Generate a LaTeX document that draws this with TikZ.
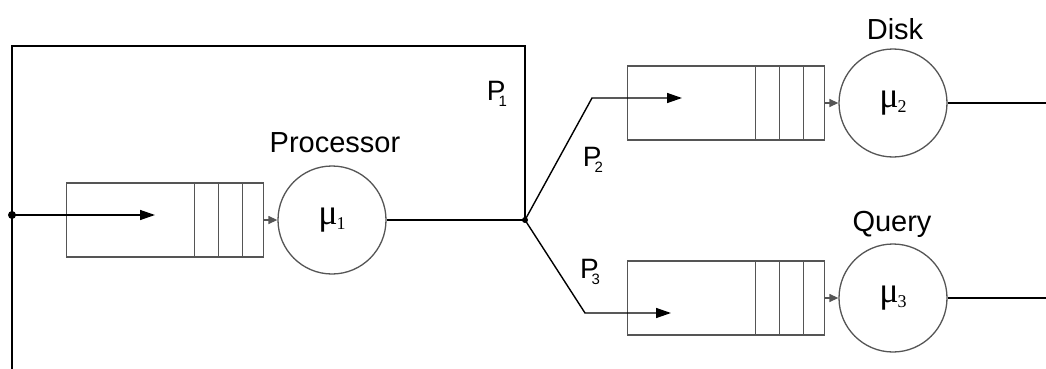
\documentclass[tikz,border=0pt]{standalone}
\usepackage{fontspec}
\setmainfont{Liberation Sans}
\newfontfamily\serifmu{Liberation Serif}
\usetikzlibrary{arrows.meta}
\definecolor{boxgray}{HTML}{555555}
\newcommand{\plabel}[1]{\fontsize{28}{30}\selectfont P\kern-7pt\raisebox{-6pt}{\fontsize{15}{15}\selectfont #1}}
\newcommand{\mulabel}[1]{\serifmu\fontsize{36}{38}\selectfont μ\kern-1pt\raisebox{-5pt}{\fontsize{18}{18}\selectfont #1}}
\begin{document}
\begin{tikzpicture}[x=1pt,y=-1pt,
  qbox/.style={draw=boxgray,line width=1.3pt,minimum width=197pt,minimum height=74pt,inner sep=0pt},
  server/.style={circle,draw=boxgray,line width=1.3pt,minimum size=108pt,inner sep=0pt},
  flow/.style={draw=black,line width=1.4pt},
  bigarrow/.style={flow,-{Triangle[length=15pt,width=10pt]}},
  smallarrow/.style={draw=boxgray,line width=1.3pt,-{Triangle[length=9pt,width=8pt]}},
  slot/.style={draw=boxgray,line width=1.3pt},
  lbl/.style={font=\fontsize{29}{32}\selectfont,inner sep=0pt},
  dot/.style={circle,fill=black,inner sep=0pt,minimum size=#1}
]
\useasboundingbox (0,0) rectangle (1046,369);

% queues
\node[qbox] (q1) at (165,220) {};
\node[qbox] (q2) at (726,103) {};
\node[qbox] (q3) at (726,298) {};
\foreach \q in {q1,q2,q3}{
  \foreach \d in {70,46,22}{
    \draw[slot] ([xshift=-\d pt]\q.north east) -- ([xshift=-\d pt]\q.south east);
  }
}

% servers
\node[server] (c1) at (332,220) {\mulabel{1}};
\node[server] (c2) at (893,103) {\mulabel{2}};
\node[server] (c3) at (893,298) {\mulabel{3}};

% labels
\node[lbl] (lp) at (335,143) {Processor};
\node[lbl] (ld) at (895,29) {Disk};
\node[lbl] (lq) at (892,224) {Query};
\node[inner sep=0pt] (p1) at (497,94) {\plabel{1}};
\node[inner sep=0pt] (p2) at (593,160) {\plabel{2}};
\node[inner sep=0pt] (p3) at (590,272) {\plabel{3}};

% queue to server
\draw[smallarrow] (q1.east) -- (c1.west);
\draw[smallarrow] (q2.east) -- (c2.west);
\draw[smallarrow] (q3.east) -- (c3.west);

% coordinates
\coordinate (in) at (12,215);
\coordinate (j) at (525,220);
\coordinate (ua) at (592,98);
\coordinate (ue) at (682,98);
\coordinate (la) at (585,313);
\coordinate (le) at (671,313);
\coordinate (tl) at (12,46);
\coordinate (tr) at (525,46);
\coordinate (bot) at (12,369);
\coordinate (in1e) at (155,215);
\coordinate (o2) at (1046,103);
\coordinate (o3) at (1046,298);

% connectors
\draw[bigarrow] (in) -- (in1e);
\draw[flow] (c1.east) -- (j);
\draw[bigarrow] (j) -- (ua) -- (ue);
\draw[bigarrow] (j) -- (la) -- (le);
\draw[flow] (j) -- (tr) -- (tl) -- (bot);
\draw[flow] (c2.east) -- (o2);
\draw[flow] (c3.east) -- (o3);

\node[dot=8pt] at (in) {};
\node[dot=6pt] at (j) {};
\end{tikzpicture}
\end{document}
